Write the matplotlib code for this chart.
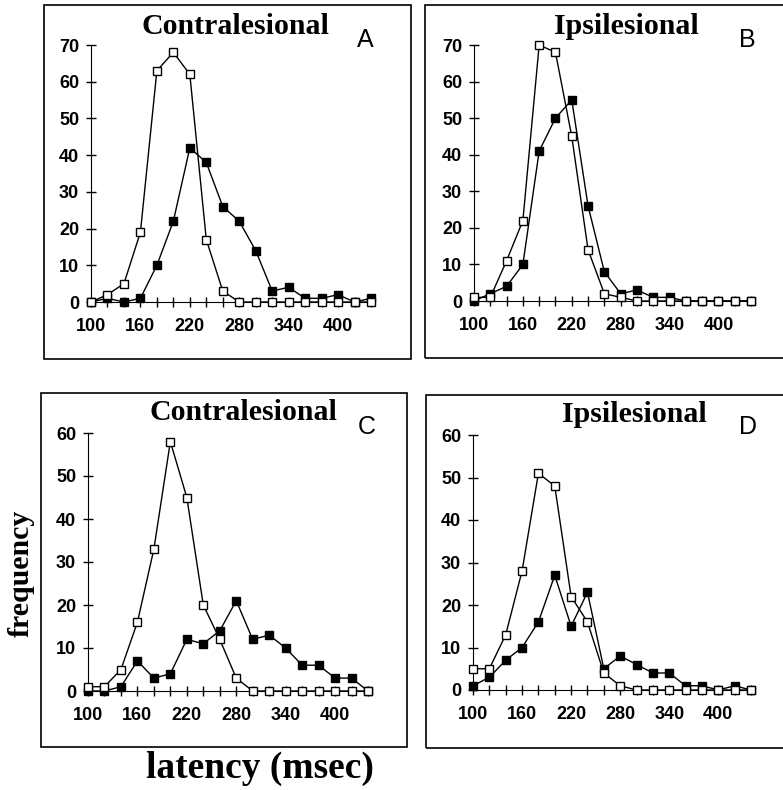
import numpy as np
from matplotlib import pyplot as plt
from matplotlib.patches import Rectangle
import matplotlib.ticker as ticker

# latency bins (msec)
latency = np.arange(100, 441, 20)

# panel A - contralesional
a_open = [0, 2, 5, 19, 63, 68, 62, 17, 3, 0, 0, 0, 0, 0, 0, 0, 0, 0]
a_filled = [0, 1, 0, 1, 10, 22, 42, 38, 26, 22, 14, 3, 4, 1, 1, 2, 0, 1]
# panel B - ipsilesional
b_open = [1, 1, 11, 22, 70, 68, 45, 14, 2, 1, 0, 0, 0, 0, 0, 0, 0, 0]
b_filled = [0, 2, 4, 10, 41, 50, 55, 26, 8, 2, 3, 1, 1, 0, 0, 0, 0, 0]
# panel C - contralesional
c_open = [1, 1, 5, 16, 33, 58, 45, 20, 12, 3, 0, 0, 0, 0, 0, 0, 0, 0]
c_filled = [0, 0, 1, 7, 3, 4, 12, 11, 14, 21, 12, 13, 10, 6, 6, 3, 3, 0]
# panel D - ipsilesional
d_open = [5, 5, 13, 28, 51, 48, 22, 16, 4, 1, 0, 0, 0, 0, 0, 0, 0, 0]
d_filled = [1, 3, 7, 10, 16, 27, 15, 23, 5, 8, 6, 4, 4, 1, 1, 0, 1, 0]

titles = ["Contralesional", "Ipsilesional", "Contralesional", "Ipsilesional"]
letters = ["A", "B", "C", "D"]
xlabels_shown = [100, 160, 220, 280, 340, 400]

W, H = 783, 790
fig = plt.figure(figsize=(W / 100, H / 100), dpi=100)


def fx(px):
    return px / W


def fy(py):
    return 1 - py / H


# panel boxes (left, top, right, bottom in pixels)
boxes = [(44, 5, 411, 359), (425, 5, 792, 358), (41, 393, 407, 747), (426, 395, 792, 748)]
for l, t, r, b in boxes:
    fig.patches.append(Rectangle((fx(l), fy(b)), fx(r - l), (b - t) / H, transform=fig.transFigure,
                                 fill=False, edgecolor='black', linewidth=1.2))

# axes rectangles (x100, x440, y0, ytop) in pixels
axes_px = [(91, 371, 302, 45), (474, 751, 301, 45), (88, 368, 691, 433), (473, 751, 690, 435)]
ymaxes = [70, 70, 60, 60]
data = [(a_open, a_filled), (b_open, b_filled), (c_open, c_filled), (d_open, d_filled)]
title_pos = [(235, 27), (626, 27), (243, 413), (634, 414)]
letter_pos = [(365, 40), (747, 40), (367, 427), (748, 427)]

for i in range(4):
    x0, x1, y0, y1 = axes_px[i]
    ax = fig.add_axes([fx(x0), fy(y0), fx(x1 - x0), (y0 - y1) / H])
    op, fl = data[i]
    ax.plot(latency, fl, color='black', lw=1, marker='s', ms=5.8, mfc='black', mec='black',
            clip_on=False, zorder=3)
    ax.plot(latency, op, color='black', lw=1, marker='s', ms=5.8, mfc='white', mec='black',
            mew=1, clip_on=False, zorder=4)
    ax.set_xlim(100, 440)
    ax.set_ylim(0, ymaxes[i])
    ax.spines['top'].set_visible(False)
    ax.spines['right'].set_visible(False)
    ax.xaxis.set_major_locator(ticker.FixedLocator(latency))
    ax.xaxis.set_major_formatter(ticker.FuncFormatter(
        lambda v, p: str(int(v)) if int(round(v)) in xlabels_shown else ''))
    ax.yaxis.set_major_locator(ticker.MultipleLocator(10))
    ax.tick_params(direction='inout', length=7, width=1, pad=5)
    ax.tick_params(axis='x', pad=8)
    for lab in ax.get_xticklabels() + ax.get_yticklabels():
        lab.set_family('Liberation Sans')
        lab.set_fontweight('bold')
        lab.set_fontsize(13)
    fig.text(fx(title_pos[i][0]), fy(title_pos[i][1]), titles[i], family='Liberation Serif',
             fontweight='bold', fontsize=21.5, ha='center', va='center')
    fig.text(fx(letter_pos[i][0]), fy(letter_pos[i][1]), letters[i], family='Liberation Sans',
             fontsize=18, ha='center', va='center')

fig.text(fx(21), fy(573), 'frequency', family='Liberation Serif', fontweight='bold',
         fontsize=21.5, rotation=90, ha='center', va='center')
fig.text(fx(260), fy(768), 'latency (msec)', family='Liberation Serif', fontweight='bold',
         fontsize=27, ha='center', va='center')

plt.savefig('out.png', dpi=100)
